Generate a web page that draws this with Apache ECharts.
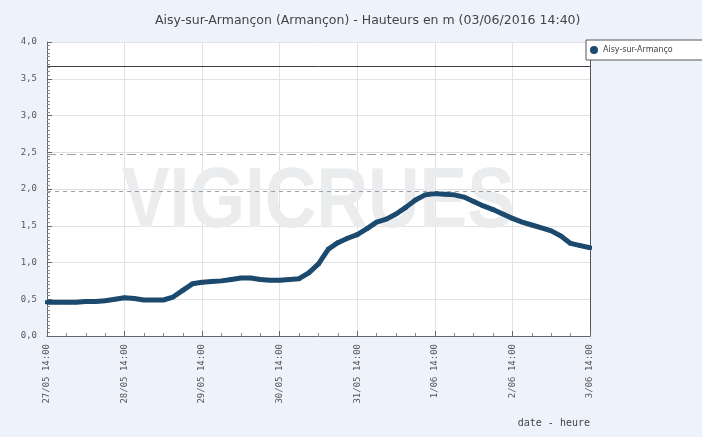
<!DOCTYPE html>
<html>
<head>
<meta charset="utf-8">
<script src="https://cdn.jsdelivr.net/npm/echarts@6/dist/echarts.min.js"></script>
<style>
  html, body { margin: 0; padding: 0; background: #eef3fb; }
  #chart { width: 702px; height: 437px; }
</style>
</head>
<body>
<div id="chart"></div>
<script>
// relevés toutes les 3 h depuis le 27/05 14:00
var hours = []
var hauteurs = [
  0.46, 0.46, 0.46, 0.46, 0.47, 0.47, 0.48, 0.50,
  0.52, 0.51, 0.49, 0.49, 0.49, 0.53, 0.62, 0.71,
  0.73, 0.74, 0.75, 0.77, 0.79, 0.79, 0.77, 0.76,
  0.76, 0.77, 0.78, 0.86, 0.98, 1.18, 1.27, 1.33,
  1.38, 1.46, 1.55, 1.59, 1.66, 1.75, 1.85, 1.92,
  1.94, 1.93, 1.92, 1.89, 1.83, 1.77, 1.72, 1.66,
  1.60, 1.55, 1.51, 1.47, 1.43, 1.36, 1.26, 1.23,
  1.20
]
for (var i = 0; i < hauteurs.length; i++) hours.push(i * 3)

// seuils tracés en lignes horizontales
var seuilSolide = 3.67
var seuilMixte = 2.47
var seuilTirets = 1.97

var xLabels = ['27/05 14:00', '28/05 14:00', '29/05 14:00', '30/05 14:00',
  '31/05 14:00', '1/06 14:00', '2/06 14:00', '3/06 14:00']

var chart = echarts.init(document.getElementById('chart'))
var labelFont = { color: '#555', fontSize: 9, fontFamily: 'DejaVu Sans Mono' }

chart.setOption({
  backgroundColor: '#eef3fb',
  animation: false,
  title: {
    text: 'Aisy-sur-Armançon (Armançon) - Hauteurs en m (03/06/2016 14:40)',
    left: 150,
    top: 9,
    textStyle: { color: '#444', fontSize: 12.5, fontWeight: 'normal', fontFamily: 'DejaVu Sans' }
  },
  legend: {
    left: 586,
    top: 40,
    width: 130,
    backgroundColor: '#fff',
    borderColor: '#555',
    borderWidth: 1,
    borderRadius: 0,
    padding: [6, 30, 6, 4],
    icon: 'circle',
    itemWidth: 8,
    itemHeight: 8,
    itemGap: 4,
    textStyle: { color: '#444', fontSize: 8, fontFamily: 'DejaVu Sans' },
    data: ['Aisy-sur-Armançon'],
    formatter: function (n) { return n.slice(0, 16) }
  },
  grid: {
    left: 47,
    right: 112,
    top: 42,
    bottom: 101,
    show: true,
    backgroundColor: '#fff',
    borderWidth: 0
  },
  graphic: [
    {
      type: 'text',
      left: 122,
      top: 161,
      z: 1,
      scaleX: 0.84,
      style: {
        text: 'VIGICRUES',
        fill: '#ebecee',
        font: 'bold 85px "Liberation Sans"'
      }
    },
    {
      type: 'text',
      right: 112,
      top: 418,
      style: {
        text: 'date - heure',
        fill: '#444',
        font: '10px "DejaVu Sans Mono"'
      }
    }
  ],
  xAxis: {
    type: 'value',
    min: 0,
    max: 168,
    interval: 24,
    axisLine: { lineStyle: { color: '#666' } },
    axisTick: { inside: true, length: 5, lineStyle: { color: '#666' } },
    minorTick: { show: true, splitNumber: 4, length: 3, lineStyle: { color: '#888' } },
    splitLine: { show: true, lineStyle: { color: '#e2e2e2' } },
    axisLabel: {
      rotate: 90,
      margin: 8,
      ...labelFont,
      formatter: function (v) { return xLabels[Math.round(v / 24)] }
    }
  },
  yAxis: [
    {
      type: 'value',
      min: 0,
      max: 4,
      interval: 0.5,
      axisLine: { show: true, lineStyle: { color: '#666' } },
      axisTick: { show: true, inside: true, length: 5, lineStyle: { color: '#666' } },
      minorTick: { show: true, splitNumber: 10, length: 3, lineStyle: { color: '#888' } },
      splitLine: { show: true, lineStyle: { color: '#e2e2e2' } },
      axisLabel: {
        margin: 10,
        ...labelFont,
        formatter: function (v) { return v.toFixed(1).replace('.', ',') }
      }
    },
    {
      type: 'value',
      position: 'right',
      min: 0,
      max: 4,
      interval: 0.5,
      axisLine: { show: true, lineStyle: { color: '#555' } },
      axisTick: { show: false },
      axisLabel: { show: false },
      splitLine: { show: false }
    }
  ],
  series: [
    {
      name: 'Aisy-sur-Armançon',
      type: 'line',
      z: 3,
      data: hours.map(function (h, i) { return [h, hauteurs[i]] }),
      symbol: 'rect',
      symbolSize: 4,
      showSymbol: true,
      itemStyle: { color: '#1c4a6e' },
      lineStyle: { color: '#1c4a6e', width: 5 },
      markLine: {
        silent: true,
        symbol: 'none',
        label: { show: false },
        data: [
          { yAxis: seuilSolide, lineStyle: { color: '#3a3f48', width: 1, type: 'solid' } },
          { yAxis: seuilMixte, lineStyle: { color: '#9aa0a8', width: 1, type: [9, 4, 3, 4] } },
          { yAxis: seuilTirets, lineStyle: { color: '#9aa0a8', width: 1, type: [4, 4] } }
        ]
      }
    }
  ]
})
</script>
</body>
</html>
